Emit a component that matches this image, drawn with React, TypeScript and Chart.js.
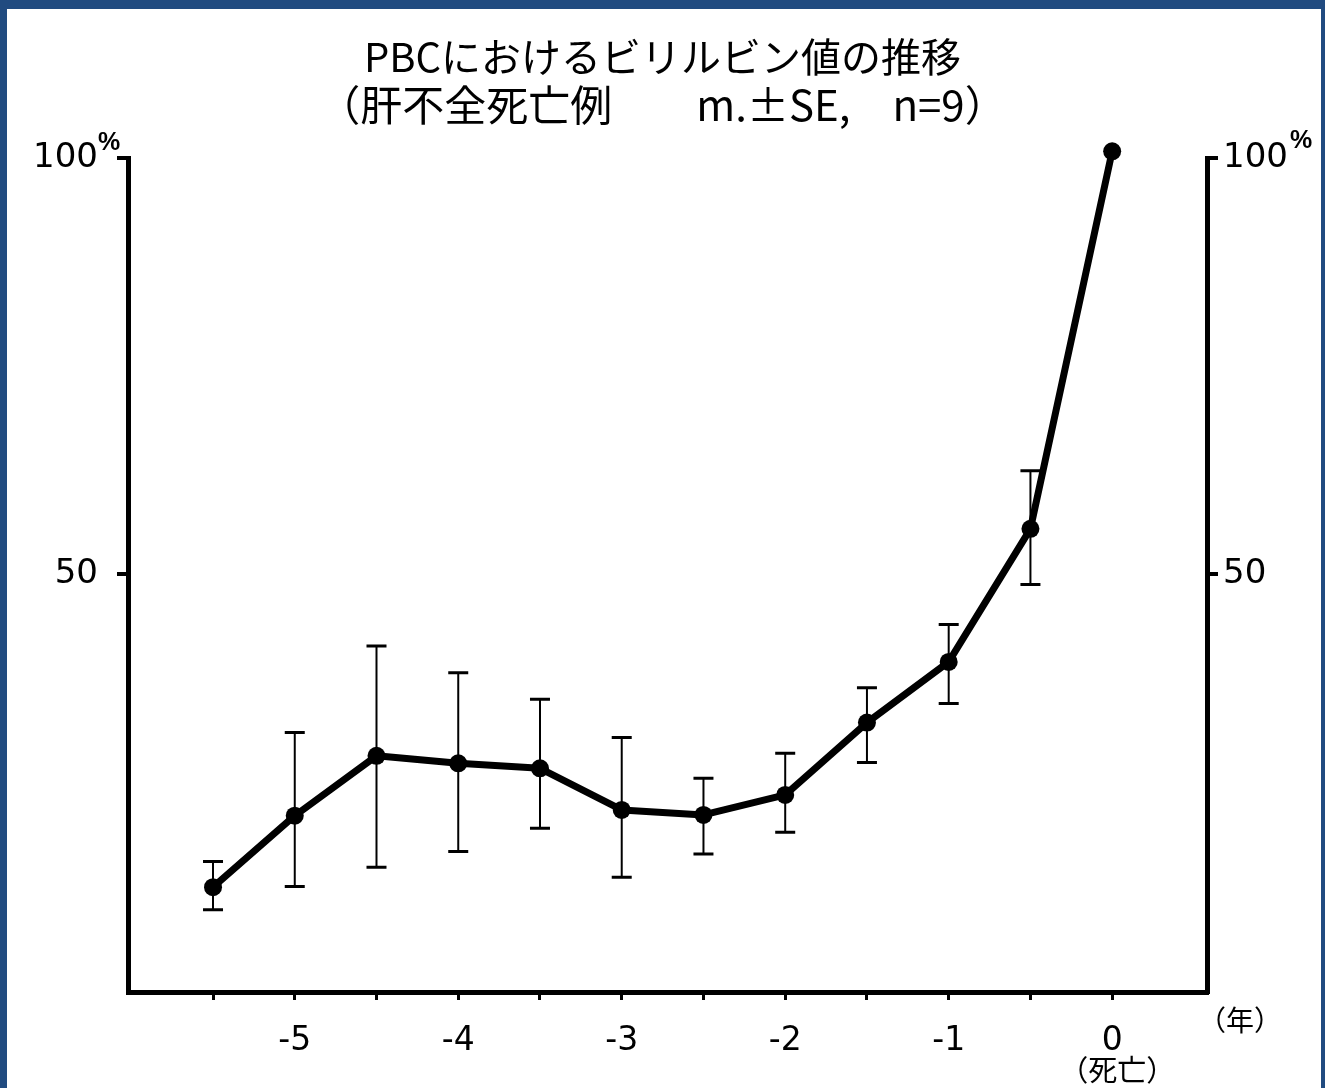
import React, { useEffect, useRef } from 'react';
import { Chart, registerables } from 'chart.js';

Chart.register(...registerables);

// ---- data ----
const YEARS = [-5.5, -5, -4.5, -4, -3.5, -3, -2.5, -2, -1.5, -1, -0.5, 0];
const MEAN = [12.3, 20.9, 28.1, 27.2, 26.6, 21.6, 21.0, 23.4, 32.1, 39.4, 55.4, 100.8];
const SE_UPPER = [15.4, 30.9, 41.3, 38.1, 34.9, 30.3, 25.4, 28.4, 36.3, 43.9, 62.4, null];
const SE_LOWER = [9.6, 12.4, 14.7, 16.6, 19.4, 13.5, 16.3, 18.9, 27.3, 34.4, 48.7, null];
const X_TICKS = [-5.5, -5, -4.5, -4, -3.5, -3, -2.5, -2, -1.5, -1, -0.5, 0];
const Y_TICKS = [50, 100];
const X_MIN = -6.02;
const X_MAX = 0.58;
const Y_MIN = -0.3;
const Y_MAX = 100;
const TITLE_TEXT = 'PBCにおけるビリルビン値の推移';
const SUBTITLE_TEXT = '（肝不全死亡例　　m.±SE,　n=9）';
const PERCENT = '%';
const X_UNIT = '（年）';
const DEATH_LABEL = '（死亡）';

const FRAME_BLUE = '#214b80';
const TICK_FONT = 'DejaVu Sans';
const JP_FONT = 'Noto Sans CJK JP';

const errorBarPlugin = {
  id: 'errorBars',
  beforeDatasetsDraw(chart: any) {
    const ctx = chart.ctx;
    const xs = chart.scales.x;
    const ys = chart.scales.y;
    ctx.save();
    ctx.strokeStyle = '#000';
    YEARS.forEach((yr, i) => {
      const hi = SE_UPPER[i];
      const lo = SE_LOWER[i];
      if (hi == null || lo == null) return;
      const px = xs.getPixelForValue(yr);
      const pHi = ys.getPixelForValue(hi);
      const pLo = ys.getPixelForValue(lo);
      ctx.lineWidth = 2;
      ctx.beginPath();
      ctx.moveTo(px, pHi);
      ctx.lineTo(px, pLo);
      ctx.stroke();
      ctx.lineWidth = 3;
      ctx.beginPath();
      ctx.moveTo(px - 10, pHi);
      ctx.lineTo(px + 10, pHi);
      ctx.moveTo(px - 10, pLo);
      ctx.lineTo(px + 10, pLo);
      ctx.stroke();
    });
    ctx.restore();
  },
};

const decorPlugin = {
  id: 'decor',
  afterDraw(chart: any) {
    const ctx = chart.ctx;
    const xs = chart.scales.x;
    const ys = chart.scales.y;
    const w = chart.width;
    ctx.save();
    // scan frame
    ctx.fillStyle = FRAME_BLUE;
    ctx.fillRect(0, 0, 7, chart.height);
    ctx.fillRect(0, 0, w, 9);
    ctx.fillRect(w - 4, 0, 4, chart.height);

    ctx.fillStyle = '#000';
    // percent superscripts
    const p100 = ys.getPixelForValue(Y_MAX);
    ctx.font = `bold 25px "Liberation Sans"`;
    ctx.textAlign = 'left';
    ctx.textBaseline = 'alphabetic';
    ctx.fillText(PERCENT, 98, p100 - 8);
    ctx.fillText(PERCENT, 1290, p100 - 10);

    // (死亡) under 0
    ctx.font = `29px "${JP_FONT}"`;
    ctx.textAlign = 'center';
    ctx.textBaseline = 'middle';
    ctx.fillText(DEATH_LABEL, xs.getPixelForValue(0) + 5, 1070);

    // (年) unit
    ctx.font = `28px "${JP_FONT}"`;
    ctx.fillText(X_UNIT, 1240, 1020);
    ctx.restore();
  },
};

export default function App() {
  const ref = useRef<HTMLCanvasElement | null>(null);

  useEffect(() => {
    if (!ref.current) return;
    const chart = new Chart(ref.current, {
      type: 'line',
      data: {
        datasets: [
          {
            data: YEARS.map((x, i) => ({ x, y: MEAN[i] })),
            borderColor: '#000',
            backgroundColor: '#000',
            borderWidth: 7,
            pointRadius: 9,
            pointBackgroundColor: '#000',
            pointBorderWidth: 0,
            borderCapStyle: 'round',
            borderJoinStyle: 'round',
            tension: 0,
            clip: false as any,
            yAxisID: 'y',
          },
        ],
      },
      options: {
        responsive: false,
        animation: false,
        layout: { padding: 0 },
        plugins: {
          legend: { display: false },
          tooltip: { enabled: false },
          title: {
            display: true,
            text: TITLE_TEXT,
            color: '#000',
            font: { family: JP_FONT, size: 40, weight: 'normal', lineHeight: 48 / 40 },
            padding: { top: 33, bottom: 0 },
          },
          subtitle: {
            display: true,
            text: SUBTITLE_TEXT,
            color: '#000',
            font: { family: JP_FONT, size: 42, weight: 'normal', lineHeight: 48 / 42 },
            padding: { top: 0, bottom: 29 },
          },
        },
        scales: {
          x: {
            type: 'linear',
            min: X_MIN,
            max: X_MAX,
            afterBuildTicks: (axis: any) => {
              axis.ticks = X_TICKS.map((v) => ({ value: v }));
            },
            afterFit: (axis: any) => {
              axis.height = 96;
            },
            ticks: {
              autoSkip: false,
              maxRotation: 0,
              color: '#000',
              padding: 22,
              font: { family: TICK_FONT, size: 33 },
              callback: (v: any) => (Number.isInteger(Number(v)) ? String(v) : ''),
            },
            grid: {
              drawOnChartArea: false,
              drawTicks: true,
              tickLength: 8,
              tickWidth: 3,
              tickColor: '#000',
              color: '#000',
              lineWidth: 3,
            },
            border: { display: true, color: '#000', width: 5 },
          },
          y: {
            type: 'linear',
            position: 'left',
            min: Y_MIN,
            max: Y_MAX,
            afterBuildTicks: (axis: any) => {
              axis.ticks = Y_TICKS.map((v) => ({ value: v }));
            },
            afterFit: (axis: any) => {
              axis.width = 128;
            },
            ticks: {
              color: '#000',
              padding: 19,
              font: { family: TICK_FONT, size: 34 },
              callback: (v: any) => String(v),
            },
            grid: {
              drawOnChartArea: false,
              drawTicks: true,
              tickLength: 11,
              tickWidth: 4,
              tickColor: '#000',
              color: '#000',
              lineWidth: 4,
            },
            border: { display: true, color: '#000', width: 5 },
          },
          y2: {
            type: 'linear',
            position: 'right',
            min: Y_MIN,
            max: Y_MAX,
            afterBuildTicks: (axis: any) => {
              axis.ticks = Y_TICKS.map((v) => ({ value: v }));
            },
            afterFit: (axis: any) => {
              axis.width = 118;
            },
            ticks: {
              color: '#000',
              padding: 5,
              font: { family: TICK_FONT, size: 34 },
              callback: (v: any) => String(v),
            },
            grid: {
              drawOnChartArea: false,
              drawTicks: true,
              tickLength: 11,
              tickWidth: 4,
              tickColor: '#000',
              color: '#000',
              lineWidth: 4,
            },
            border: { display: true, color: '#000', width: 5 },
          },
        },
      } as any,
      plugins: [errorBarPlugin, decorPlugin],
    });
    return () => chart.destroy();
  }, []);

  return (
    <div style={{ position: 'absolute', left: 0, top: 0, width: 1325, height: 1088, background: '#fff' }}>
      <canvas ref={ref} width={1325} height={1088} style={{ display: 'block' }} />
    </div>
  );
}
